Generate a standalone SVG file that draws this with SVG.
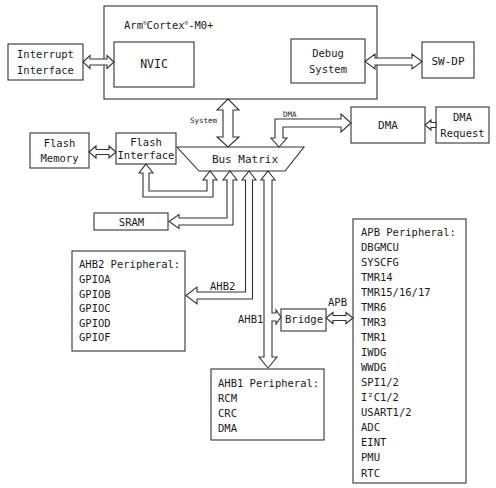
<svg xmlns="http://www.w3.org/2000/svg" width="496" height="488" viewBox="0 0 496 488">
<style>
rect.box{fill:#fff;stroke:#333;stroke-width:1.1}
.ar{fill:#fff;stroke:#333;stroke-width:1.1;stroke-linejoin:miter}
text{font-family:"DejaVu Sans Mono","Liberation Mono",monospace;font-size:10.5px;fill:#1a1a1a}
.c{text-anchor:middle}
.sm{font-size:7.5px}
</style>
<rect width="496" height="488" fill="#fff"/>
<g id="cortex">
<rect class="box" x="104" y="6" width="273" height="93"/>
<text x="124" y="29">Arm<tspan font-size="6" dy="-4">®</tspan><tspan dy="4">Cortex</tspan><tspan font-size="6" dy="-4">®</tspan><tspan dy="4">-M0+</tspan></text>
</g>
<g id="nvic">
<rect class="box" x="114" y="42" width="80" height="45"/>
<text class="c" x="154" y="68" style="font-size:11.5px">NVIC</text>
</g>
<g id="debug">
<rect class="box" x="291" y="39" width="74" height="44"/>
<text class="c" x="328" y="57">Debug</text>
<text class="c" x="328" y="73">System</text>
</g>
<g id="interrupt">
<rect class="box" x="8" y="44" width="75" height="36"/>
<text class="c" x="45.5" y="58">Interrupt</text>
<text class="c" x="45.5" y="74">Interface</text>
</g>
<g id="swdp">
<rect class="box" x="422" y="42" width="52" height="36"/>
<text class="c" x="448" y="65" style="font-size:11px">SW-DP</text>
</g>
<g id="dma">
<rect class="box" x="351" y="107" width="74" height="36"/>
<text class="c" x="388" y="129" style="font-size:11px">DMA</text>
</g>
<g id="dmareq">
<rect class="box" x="436" y="107" width="53" height="36"/>
<text class="c" x="462.5" y="121">DMA</text>
<text class="c" x="462.5" y="137">Request</text>
</g>
<g id="flashmem">
<rect class="box" x="30" y="133" width="59" height="35"/>
<text class="c" x="59.5" y="147">Flash</text>
<text class="c" x="59.5" y="162">Memory</text>
</g>
<g id="flashif">
<rect class="box" x="116" y="133" width="60" height="31"/>
<text class="c" x="146" y="146">Flash</text>
<text class="c" x="146" y="159">Interface</text>
</g>
<g id="busmatrix">
<polygon class="ar" points="177,147 304,147 285,171 199,171"/>
<text class="c" x="245" y="163" style="font-size:11px">Bus Matrix</text>
</g>
<g id="sram">
<rect class="box" x="94" y="213" width="74" height="17"/>
<text class="c" x="131.5" y="226">SRAM</text>
</g>
<g id="ahb2">
<rect class="box" x="72" y="251" width="113" height="100"/>
<text x="79" y="268">AHB2 Peripheral:</text>
<text x="79" y="283">GPIOA</text>
<text x="79" y="297.5">GPIOB</text>
<text x="79" y="312">GPIOC</text>
<text x="79" y="326.5">GPIOD</text>
<text x="79" y="341">GPIOF</text>
</g>
<g id="bridge">
<rect class="box" x="281" y="309" width="45" height="22"/>
<text class="c" x="304" y="323">Bridge</text>
</g>
<g id="ahb1">
<rect class="box" x="211" y="369" width="113" height="71"/>
<text x="218" y="387">AHB1 Peripheral:</text>
<text x="218" y="402">RCM</text>
<text x="218" y="417">CRC</text>
<text x="218" y="432">DMA</text>
</g>
<g id="apb">
<rect class="box" x="353" y="219" width="113" height="264"/>
<text x="361" y="236">APB Peripheral:</text>
<text x="361" y="251">DBGMCU</text>
<text x="361" y="266">SYSCFG</text>
<text x="361" y="281">TMR14</text>
<text x="361" y="296">TMR15/16/17</text>
<text x="361" y="311">TMR6</text>
<text x="361" y="326">TMR3</text>
<text x="361" y="341">TMR1</text>
<text x="361" y="356">IWDG</text>
<text x="361" y="371">WWDG</text>
<text x="361" y="386">SPI1/2</text>
<text x="361" y="401">I²C1/2</text>
<text x="361" y="416">USART1/2</text>
<text x="361" y="431">ADC</text>
<text x="361" y="446">EINT</text>
<text x="361" y="461">PMU</text>
<text x="361" y="477">RTC</text>
</g>
<g id="connectors">
<polygon class="ar" points="83,62 90,55.5 90,59 107,59 107,55.5 114,62 107,68.5 107,65 90,65 90,68.5"/>
<polygon class="ar" points="365,61.5 375,54 375,58 412,58 412,54 422,61.5 412,69 412,65 375,65 375,69"/>
<polygon class="ar" points="228,99 239,110 233,110 233,137 239,137 228,147 217,137 223,137 223,110 217,110"/>
<polygon class="ar" points="351,123 341,132 341,127 283,127 283,138 287,138 279,147 271,138 275,138 275,119 341,119 341,114"/>
<polygon class="ar" points="425,125 431,120 431,122.5 436,122.5 436,127.5 431,127.5 431,130"/>
<polygon class="ar" points="89,152 96,146 96,149.5 109,149.5 109,146 116,152 109,158 109,154.5 96,154.5 96,158"/>
<polygon class="ar" points="146,164 153,173 149,173 149,191 207,191 207,180 203,180 210,171 217,180 213,180 213,197 143,197 143,173 139,173"/>
<polygon class="ar" points="230,171 237,180 233,180 233,225 179,225 179,228.5 169,221.5 179,214.5 179,218 227,218 227,180 223,180"/>
<polygon class="ar" points="249,171 256,180 252.5,180 252.5,299 197,299 197,304 186,295.5 197,287 197,292 245.5,292 245.5,180 242,180"/>
<polygon class="ar" points="268,171 275,180 272,180 272,313 276,313 276,310 281,317 276,324 276,321 272,321 272,357 277,357 268,368 259,357 264,357 264,180 261,180"/>
<polygon class="ar" points="326,318 333,312.5 333,315.5 346,315.5 346,312.5 353,318 346,323.5 346,320.5 333,320.5 333,323.5"/>
<text class="sm" x="190" y="123">System</text>
<text class="sm" x="283" y="117">DMA</text>
<text x="210" y="290">AHB2</text>
<text x="238" y="323">AHB1</text>
<text x="328" y="306">APB</text>
</g>
</svg>
